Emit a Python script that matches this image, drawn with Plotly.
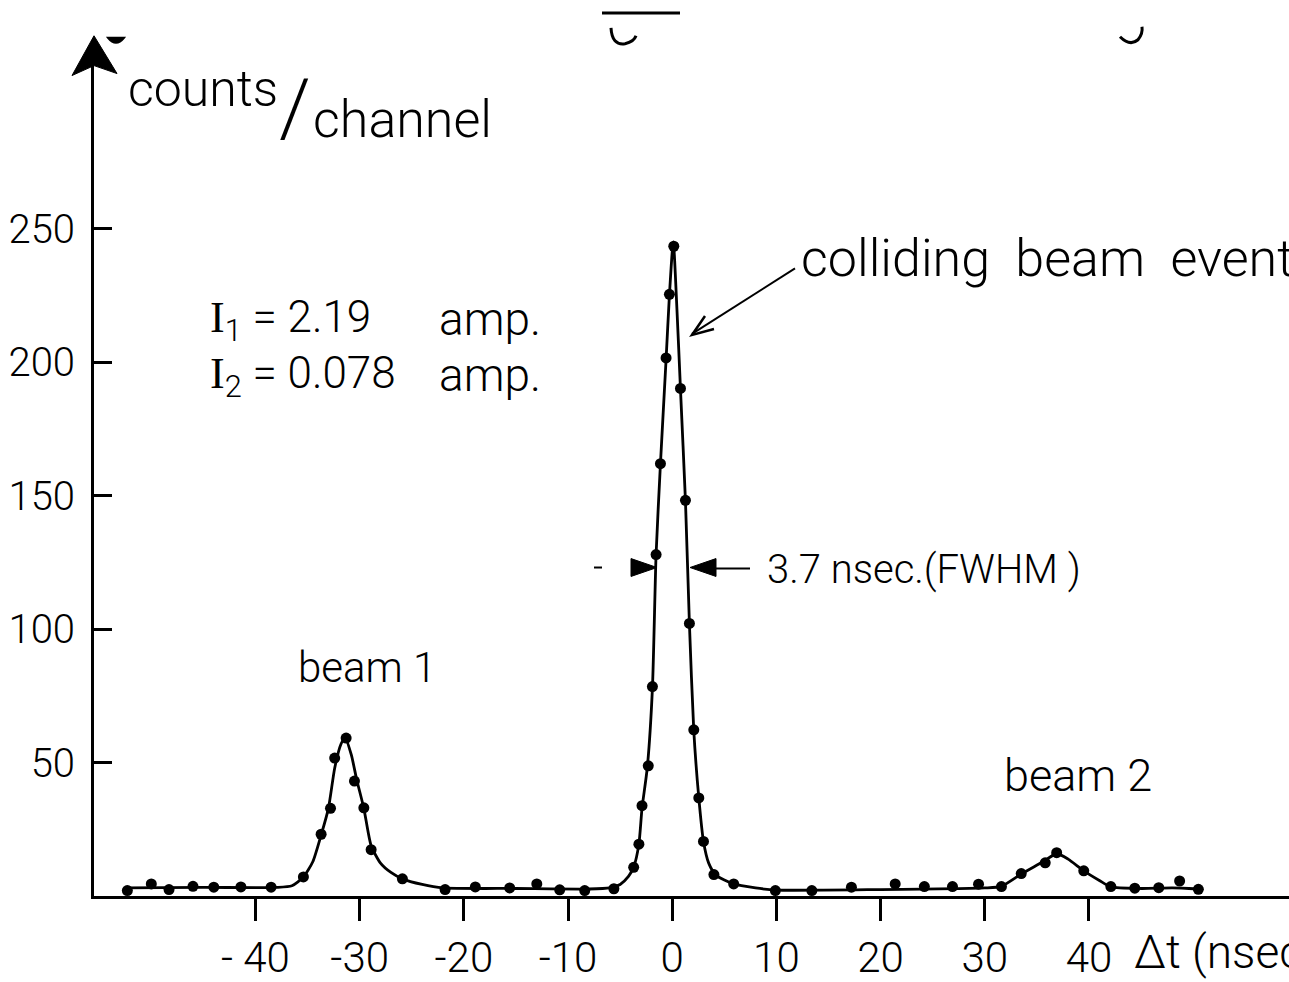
import plotly.graph_objects as go

# ---- data ----
t_points = [-52.3, -50.0, -48.3, -46.0, -44.0, -41.4, -38.5, -35.4, -33.7, -32.8, -32.4, -31.3,
            -30.5, -29.6, -28.9, -25.9, -21.8, -18.9, -15.6, -13.0, -10.8, -8.4, -5.6, -3.7,
            -3.2, -2.9, -2.3, -1.9, -1.55, -1.13, -0.59, -0.27, 0.15, 0.79, 1.27, 1.65, 2.07,
            2.55, 3.0, 4.0, 5.9, 9.9, 13.4, 17.2, 21.4, 24.2, 26.9, 29.4, 31.6, 33.5, 35.8,
            36.9, 39.5, 42.1, 44.4, 46.7, 48.7, 50.5]
counts_points = [2.2, 4.7, 2.6, 3.8, 3.5, 3.6, 3.5, 7.3, 23.3, 33, 51.8, 59.3,
                 43.2, 33.2, 17.5, 6.6, 2.6, 3.6, 3.2, 4.7, 2.5, 2.2, 2.9, 10.9,
                 19.6, 34, 48.9, 78.6, 128, 162, 201.6, 225.4, 243.4, 190.2, 148.3, 102.2, 62.4,
                 36.9, 20.6, 8.2, 4.7, 2.2, 2.2, 3.5, 4.7, 3.7, 3.7, 4.6, 3.7, 8.6, 12.6,
                 16.4, 9.6, 3.7, 3.1, 3.3, 5.8, 2.7]

# smooth hand-drawn curve
t_curve = [-52.5, -45, -38, -36.5, -35.4, -34.5, -33.7, -33.0, -32.4, -31.8, -31.4, -30.8,
           -30.3, -29.6, -28.9, -28.0, -27.0, -25.9, -24.0, -22.0, -15.0, -8.0, -6.0, -5.0,
           -4.2, -3.7, -3.2, -2.9, -2.4, -1.9, -1.55, -1.13, -0.59, -0.27, 0.1, 0.45, 0.79,
           1.27, 1.65, 2.07, 2.55, 3.0, 3.5, 4.2, 5.9, 8.0, 10.0, 20.0, 30.0, 31.6, 33.5,
           35.5, 36.9, 38.0, 39.5, 41.0, 42.1, 45.0, 48.0, 50.5]
counts_curve = [3.2, 3.4, 3.4, 4.0, 7.3, 13, 23, 33, 48, 57, 59.5, 53,
                44, 33, 19, 12.5, 9, 6.6, 4.5, 3.2, 3.0, 2.8, 3.2, 4.5,
                7.5, 11, 19.6, 33, 48, 78, 128, 162, 201, 225, 245, 220, 190,
                148, 102, 62, 37, 20.6, 12.5, 8, 4.7, 3.2, 2.4, 2.6, 3.2, 3.8, 8.4,
                12.8, 16, 14, 9.6, 6, 3.6, 3.0, 3.2, 2.8]

x_ticks = [-40, -30, -20, -10, 0, 10, 20, 30, 40]
x_ticktext = ["- 40", "-30", "-20", "-10", "0", "10", "20", "30", "40"]
y_ticks = [50, 100, 150, 200, 250]
y_ticktext = ["50", "100", "150", "200", "250"]

W, H = 1289, 982
FONT = "Roboto, Lato, sans-serif"
SERIF_I = '<span style="font-family:Liberation Serif">I</span>'


def X(px):
    return px / W


def Y(py):
    return 1 - py / H


fig = go.Figure()
fig.add_trace(go.Scatter(x=t_curve, y=counts_curve, mode="lines",
                         line=dict(color="black", width=2.8, shape="spline", smoothing=0.6),
                         hoverinfo="skip"))
fig.add_trace(go.Scatter(x=t_points, y=counts_points, mode="markers",
                         marker=dict(color="black", size=11)))

shapes = []
# y-axis arrow head
shapes.append(dict(type="path", xref="paper", yref="paper",
                   path=f"M {X(94)} {Y(36)} L {X(72)} {Y(76)} L {X(94)} {Y(66)} L {X(117)} {Y(74)} Z",
                   fillcolor="black", line=dict(color="black", width=1)))
# FWHM arrows
shapes.append(dict(type="path", xref="paper", yref="paper",
                   path=f"M {X(657)} {Y(571)} L {X(631)} {Y(562)} L {X(631)} {Y(580)} Z",
                   fillcolor="black", line=dict(color="black", width=1)))
shapes.append(dict(type="path", xref="paper", yref="paper",
                   path=f"M {X(690)} {Y(571)} L {X(716)} {Y(562)} L {X(716)} {Y(580)} Z",
                   fillcolor="black", line=dict(color="black", width=1)))
shapes.append(dict(type="line", xref="paper", yref="paper", x0=X(716), y0=Y(572), x1=X(750), y1=Y(572),
                   line=dict(color="black", width=2)))
shapes.append(dict(type="line", xref="paper", yref="paper", x0=X(594), y0=Y(571), x1=X(602), y1=Y(571),
                   line=dict(color="black", width=2)))
# colliding beam arrow
shapes.append(dict(type="line", xref="paper", yref="paper", x0=X(795), y0=Y(270), x1=X(692), y1=Y(336),
                   line=dict(color="black", width=2)))
shapes.append(dict(type="path", xref="paper", yref="paper",
                   path=f"M {X(714)} {Y(331)} L {X(692)} {Y(337)} L {X(705)} {Y(318)}",
                   line=dict(color="black", width=2.5)))
# scan marks at top
shapes.append(dict(type="line", xref="paper", yref="paper", x0=X(602), y0=Y(13), x1=X(680), y1=Y(13),
                   line=dict(color="black", width=3)))
shapes.append(dict(type="path", xref="paper", yref="paper",
                   path=f"M {X(611)} {Y(28)} Q {X(612)} {Y(46)} {X(625)} {Y(44)} Q {X(634)} {Y(42)} {X(636)} {Y(36)}",
                   line=dict(color="black", width=3)))
shapes.append(dict(type="path", xref="paper", yref="paper",
                   path=f"M {X(1120)} {Y(37)} Q {X(1130)} {Y(47)} {X(1138)} {Y(40)} Q {X(1143)} {Y(34)} {X(1142)} {Y(27)}",
                   line=dict(color="black", width=3)))
shapes.append(dict(type="path", xref="paper", yref="paper",
                   path=f"M {X(108)} {Y(38)} Q {X(116)} {Y(48)} {X(124)} {Y(38)} Z",
                   fillcolor="black", line=dict(color="black", width=2)))

ann = []


def text(s, px, py, size, anchor="left"):
    ann.append(dict(text=s, x=X(px), y=Y(py), xref="paper", yref="paper", showarrow=False,
                    xanchor=anchor, yanchor="middle",
                    font=dict(family=FONT, size=size, color="black", weight=300)))


NB = "\u00a0"
text("counts", 126, 90, 50)
text("/", 277, 109, 80)
text("channel", 311, 120, 52)
text(SERIF_I + "<sub>1</sub> = 2.19", 208, 322, 44)
text("amp.", 437, 321, 46)
text(SERIF_I + "<sub>2</sub> = 0.078", 208, 378, 44)
text("amp.", 437, 377, 46)
text("colliding" + NB + NB + "beam" + NB + NB + "event", 799, 260, 52)
text("3.7 nsec.(FWHM )", 765, 573, 40)
text("beam 1", 296, 672, 42)
text("beam 2", 1002, 780, 45)
text("Δt (nsec)", 1132, 958, 46)

fig.update_layout(
    width=W, height=H,
    margin=dict(l=0, r=0, t=0, b=0),
    paper_bgcolor="white", plot_bgcolor="white",
    showlegend=False,
    shapes=shapes, annotations=ann,
    xaxis=dict(domain=[94 / W, 1], range=[-55.5, 59.2], showline=True, linecolor="black",
               linewidth=3, ticks="outside", ticklen=22, tickwidth=3, tickcolor="black",
               tickvals=x_ticks, ticktext=x_ticktext, showgrid=False, zeroline=False,
               tickfont=dict(family=FONT, size=42, color="black", weight=300), ticklabelstandoff=0),
    yaxis=dict(domain=[80 / H, 942 / H], range=[0, 320.7], showline=True, linecolor="black",
               linewidth=3, ticks="inside", ticklen=18, tickwidth=2.5, tickcolor="black",
               tickvals=y_ticks, ticktext=y_ticktext, showgrid=False, zeroline=False,
               tickfont=dict(family=FONT, size=40, color="black", weight=300), ticklabelstandoff=8),
)

fig.write_html(
    "out.html",
    config={"displayModeBar": False},
    post_script="document.documentElement.style.margin='0';document.body.style.margin='0';"
                "document.body.style.overflow='hidden';",
)
